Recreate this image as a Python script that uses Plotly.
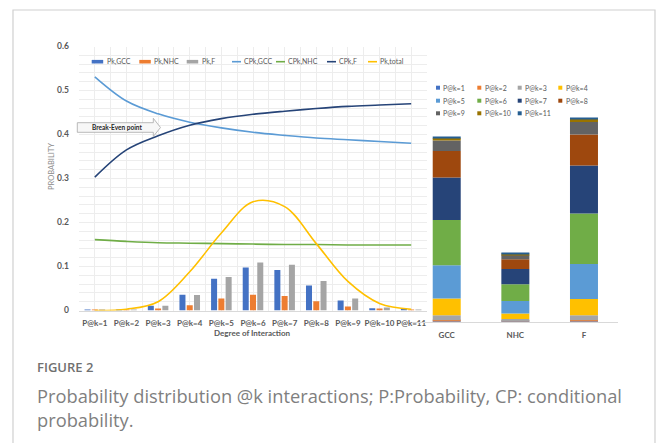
import numpy as np
import plotly.graph_objects as go

W, H = 656, 443

# ---- data -------------------------------------------------------------
k_labels = ["P@k=1", "P@k=2", "P@k=3", "P@k=4", "P@k=5", "P@k=6",
            "P@k=7", "P@k=8", "P@k=9", "P@k=10", "P@k=11"]
pk_gcc = [0.001, 0.002, 0.011, 0.036, 0.072, 0.098, 0.092, 0.057, 0.023, 0.005, 0.003]
pk_nhc = [0.001, 0.001, 0.004, 0.012, 0.027, 0.036, 0.033, 0.021, 0.009, 0.003, 0.001]
pk_f = [0.001, 0.002, 0.011, 0.035, 0.076, 0.109, 0.104, 0.067, 0.027, 0.007, 0.002]
cpk_gcc = [0.531, 0.476, 0.447, 0.428, 0.415, 0.405, 0.398, 0.392, 0.388, 0.384, 0.380]
cpk_nhc = [0.161, 0.157, 0.154, 0.153, 0.152, 0.151, 0.150, 0.150, 0.149, 0.149, 0.149]
cpk_f = [0.303, 0.365, 0.397, 0.421, 0.436, 0.446, 0.453, 0.459, 0.464, 0.467, 0.470]
pk_total = [0.000, 0.003, 0.020, 0.088, 0.176, 0.247, 0.236, 0.152, 0.066, 0.016, 0.003]
groups = ["GCC", "NHC", "F"]
y_ticks = [0, 0.1, 0.2, 0.3, 0.4, 0.5, 0.6]
y_ticktext = ["0", "0.1", "0.2", "0.3", "0.4", "0.5", "0.6"]

# ---- styling ----------------------------------------------------------
C_GCC, C_NHC, C_F = "#4472C4", "#ED7D31", "#A5A5A5"
C_CGCC, C_CNHC, C_CF, C_TOT = "#5B9BD5", "#70AD47", "#264478", "#FFC000"
k_colors = ["#4472C4", "#ED7D31", "#A5A5A5", "#FFC000", "#5B9BD5", "#70AD47",
            "#264478", "#9E480E", "#636363", "#997300", "#255E91"]
FONT = "Lato"
CAP_FONT = "Open Sans"
GRID = "#EDEDED"
AXIS = "#D9D9D9"
TXT = "#595959"


def px(x):
    return x / W


def py(y):
    return 1 - y / H


fig = go.Figure()

# ---- left chart: grouped bars + lines ---------------------------------
kpos = np.arange(1, len(k_labels) + 1)
bar_w = 0.19
for vals, col, name, off in [(pk_gcc, C_GCC, "Pk,GCC", -0.325),
                             (pk_nhc, C_NHC, "Pk,NHC", -0.095),
                             (pk_f, C_F, "Pk,F", 0.135)]:
    fig.add_trace(go.Bar(x=kpos, y=vals, name=name, marker_color=col,
                         marker_line_width=0, width=bar_w, offset=off,
                         showlegend=False, xaxis="x", yaxis="y"))

for vals, col, name in [(cpk_gcc, C_CGCC, "CPk,GCC"), (cpk_nhc, C_CNHC, "CPk,NHC"),
                        (cpk_f, C_CF, "CPk,F"), (pk_total, C_TOT, "Pk,total")]:
    fig.add_trace(go.Scatter(x=kpos, y=vals, name=name, mode="lines",
                             line=dict(color=col, width=1.6, shape="spline", smoothing=1.0),
                             showlegend=False, xaxis="x", yaxis="y"))

# ---- right chart: stacked share of each k per group -------------------
stack = np.array([pk_gcc, pk_nhc, pk_f])
bases = np.cumsum(stack, axis=1) - stack
for i, lab in enumerate(k_labels):
    fig.add_trace(go.Bar(x=groups, y=stack[:, i], base=bases[:, i], name=lab,
                         marker_color=k_colors[i], marker_line_width=0,
                         width=0.408, showlegend=False, xaxis="x2", yaxis="y2"))

fig.update_layout(
    width=W, height=H, template="none",
    margin=dict(l=0, r=0, t=0, b=0),
    paper_bgcolor="white", plot_bgcolor="rgba(0,0,0,0)",
    barmode="overlay",
    font=dict(family=FONT, color=TXT),
    xaxis=dict(domain=[px(79), px(427)], range=[0.5, 11.5], anchor="y",
               tickmode="array", tickvals=list(kpos), ticktext=k_labels,
               tickangle=0,
               showgrid=True, gridcolor=GRID, gridwidth=1,
               minor=dict(tickmode="array", tickvals=list(np.arange(0.5, 12, 1.0)),
                          showgrid=True, gridcolor=GRID, ticks=""),
               showline=True, linecolor=AXIS, linewidth=1, zeroline=False,
               ticks="", ticklabelstandoff=5, automargin=False,
               tickfont=dict(family=FONT, size=8, color=TXT, weight="bold")),
    yaxis=dict(domain=[py(310.5), py(46.5)], range=[0, 0.6], anchor="x",
               tickmode="array", tickvals=y_ticks, ticktext=y_ticktext,
               showgrid=True, gridcolor=GRID, gridwidth=1,
               minor=dict(dtick=0.02, tick0=0, showgrid=True, gridcolor=GRID, ticks=""),
               zeroline=False, showline=False, ticks="", ticklabelstandoff=9,
               automargin=False, tickfont=dict(family=FONT, size=8.5, color=TXT, weight="bold")),
    xaxis2=dict(domain=[px(412.4), px(618.3)], anchor="y2", range=[-0.5, 2.5],
                tickangle=0,
                showgrid=False, showline=True, linecolor=AXIS, linewidth=1,
                zeroline=False, ticks="", ticklabelstandoff=6, automargin=False,
                tickfont=dict(family=FONT, size=8, color=TXT, weight="bold")),
    yaxis2=dict(domain=[py(321.7), py(113.6)], anchor="x2", range=[0, 0.45],
                visible=False, showgrid=False, zeroline=False, automargin=False),
)

shapes = []
annotations = []

# outer frame of the figure panel
shapes.append(dict(type="rect", xref="paper", yref="paper",
                   x0=px(13), x1=px(655), y0=py(460), y1=py(10),
                   line=dict(color="#D0D0D0", width=1.2), fillcolor="rgba(0,0,0,0)",
                   layer="below"))

# legend of the left chart
left_items = [("Pk,GCC", "bar", C_GCC, 91.7), ("Pk,NHC", "bar", C_NHC, 139.3),
              ("Pk,F", "bar", C_F, 186.7), ("CPk,GCC", "line", C_CGCC, 232.0),
              ("CPk,NHC", "line", C_CNHC, 276.0), ("CPk,F", "line", C_CF, 327.0),
              ("Pk,total", "line", C_TOT, 368.0)]
ly = 61.7
for name, kind, col, x0 in left_items:
    if kind == "bar":
        shapes.append(dict(type="rect", xref="paper", yref="paper",
                           x0=px(x0), x1=px(x0 + 11.5), y0=py(ly + 1.8), y1=py(ly - 1.8),
                           fillcolor=col, line=dict(width=0)))
        tx = x0 + 13
    else:
        shapes.append(dict(type="line", xref="paper", yref="paper",
                           x0=px(x0), x1=px(x0 + 9), y0=py(ly), y1=py(ly),
                           line=dict(color=col, width=1.6)))
        tx = x0 + 10
    annotations.append(dict(text=name, xref="paper", yref="paper", x=px(tx), y=py(ly),
                            xanchor="left", yanchor="middle", showarrow=False,
                            font=dict(family=FONT, size=7, color=TXT)))

# legend of the right chart
col_x = [436.0, 477.3, 517.7, 558.3]
row_y = [87.7, 100.7, 113.3]
for i, lab in enumerate(k_labels):
    cx = col_x[i % 4]
    cy = row_y[i // 4]
    shapes.append(dict(type="rect", xref="paper", yref="paper",
                       x0=px(cx), x1=px(cx + 4), y0=py(cy + 2), y1=py(cy - 2),
                       fillcolor=k_colors[i], line=dict(width=0)))
    annotations.append(dict(text=lab, xref="paper", yref="paper", x=px(cx + 5.2), y=py(cy),
                            xanchor="left", yanchor="middle", showarrow=False,
                            font=dict(family=FONT, size=7, color=TXT)))

# break-even call-out arrow
pts = [(77.3, 122.7), (153.3, 122.7), (153.3, 118.3), (160.5, 127.5),
       (153.3, 136.5), (153.3, 132.3), (77.3, 132.3)]
path = "M " + " L ".join(f"{px(a):.5f},{py(b):.5f}" for a, b in pts) + " Z"
shapes.append(dict(type="path", xref="paper", yref="paper", path=path,
                   fillcolor="#F7F7F7", line=dict(color="#A8A8A8", width=0.8)))
annotations.append(dict(text="Break-Even point", xref="paper", yref="paper",
                        x=px(117), y=py(127.5), xanchor="center", yanchor="middle",
                        showarrow=False,
                        font=dict(family=FONT, size=6.5, color="#262626", weight="bold")))

# axis titles
annotations.append(dict(text="Degree of Interaction", xref="paper", yref="paper",
                        x=px(252), y=py(333.3), xanchor="center", yanchor="middle",
                        showarrow=False, font=dict(family=FONT, size=8, color=TXT, weight="bold")))
annotations.append(dict(text="PROBABILITY", xref="paper", yref="paper",
                        x=px(52), y=py(167), xanchor="center", yanchor="middle",
                        textangle=-90, showarrow=False,
                        font=dict(family=FONT, size=7.5, color="#8C8C8C")))

# caption
annotations.append(dict(text="FIGURE 2", xref="paper", yref="paper",
                        x=px(35), y=py(367), xanchor="left", yanchor="middle",
                        showarrow=False,
                        font=dict(family=CAP_FONT, size=13, color="#707070", weight=600)))
annotations.append(dict(text="Probability distribution @k interactions; P:Probability, CP: conditional",
                        xref="paper", yref="paper", x=px(35), y=py(395),
                        xanchor="left", yanchor="middle", showarrow=False,
                        font=dict(family=CAP_FONT, size=18.3, color="#7F7F7F")))
annotations.append(dict(text="probability.", xref="paper", yref="paper",
                        x=px(35), y=py(419), xanchor="left", yanchor="middle",
                        showarrow=False,
                        font=dict(family=CAP_FONT, size=18.3, color="#7F7F7F")))

fig.update_layout(shapes=shapes, annotations=annotations)
fig.write_html("out.html")
